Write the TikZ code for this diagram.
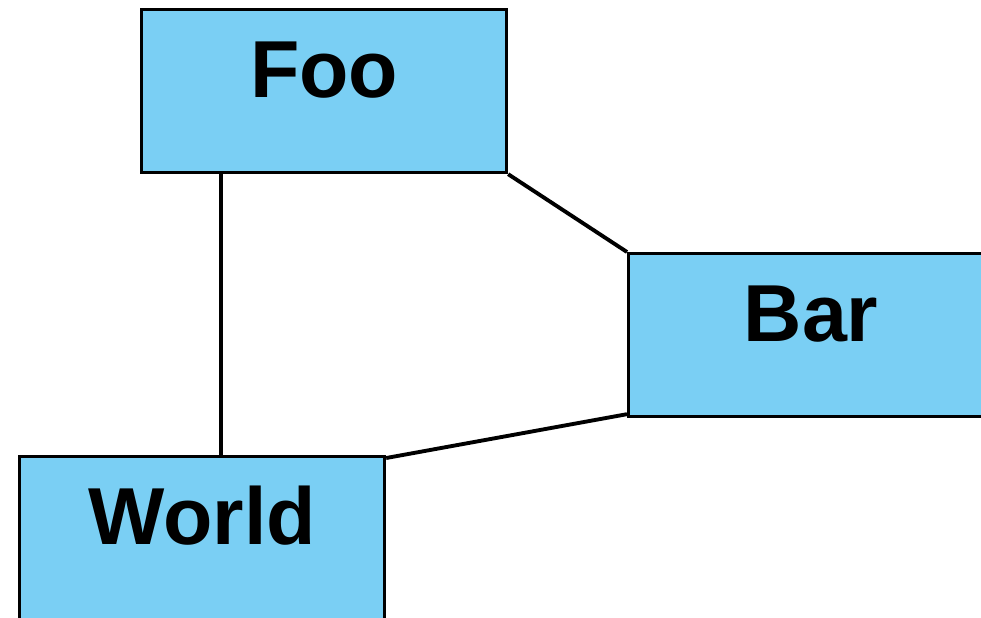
\documentclass[tikz,border=0pt]{standalone}
\usepackage{fontspec}
\setmainfont{Liberation Sans}
\usepackage{tikz}
\usetikzlibrary{calc}
\definecolor[named]{myColorBox}{RGB}{122,207,244}

\begin{document}
\begin{tikzpicture}
[%
    box/.style={
      rectangle,
      draw=black,
      line width=1.8pt,
      fill=myColorBox,
      anchor=north west,
      inner sep=0pt,
      minimum width=7.3cm,
      text height=1.75cm,
      text depth=1.51cm,
      align=center,
      font=\fontsize{46}{50}\selectfont\bfseries
    },
    link/.style={
      draw=black,
      line width=2.2pt
    }
  ]
  \useasboundingbox (0,0) rectangle (19.62,-12.34);
  \clip (0,0) rectangle (19.62,-12.34);
  %Boxes
    \draw (2.80,-0.16) node[box] (Foo) {Foo};
    \draw (12.54,-5.04) node[box] (Bar) {Bar};
    \draw (0.36,-9.10) node[box] (World) {World};
  %Links
    \coordinate (FooLeg) at ($(Foo.south west)+(1.62,0)$);
    \draw[link] (FooLeg) -- (FooLeg |- World.north);
    \draw[link] (Foo.south east) -- (Bar.north west);
    \draw[link] ($(Bar.south west)+(0,0.08)$) -- ($(World.north east)+(0,-0.06)$);
\end{tikzpicture}
\end{document}
